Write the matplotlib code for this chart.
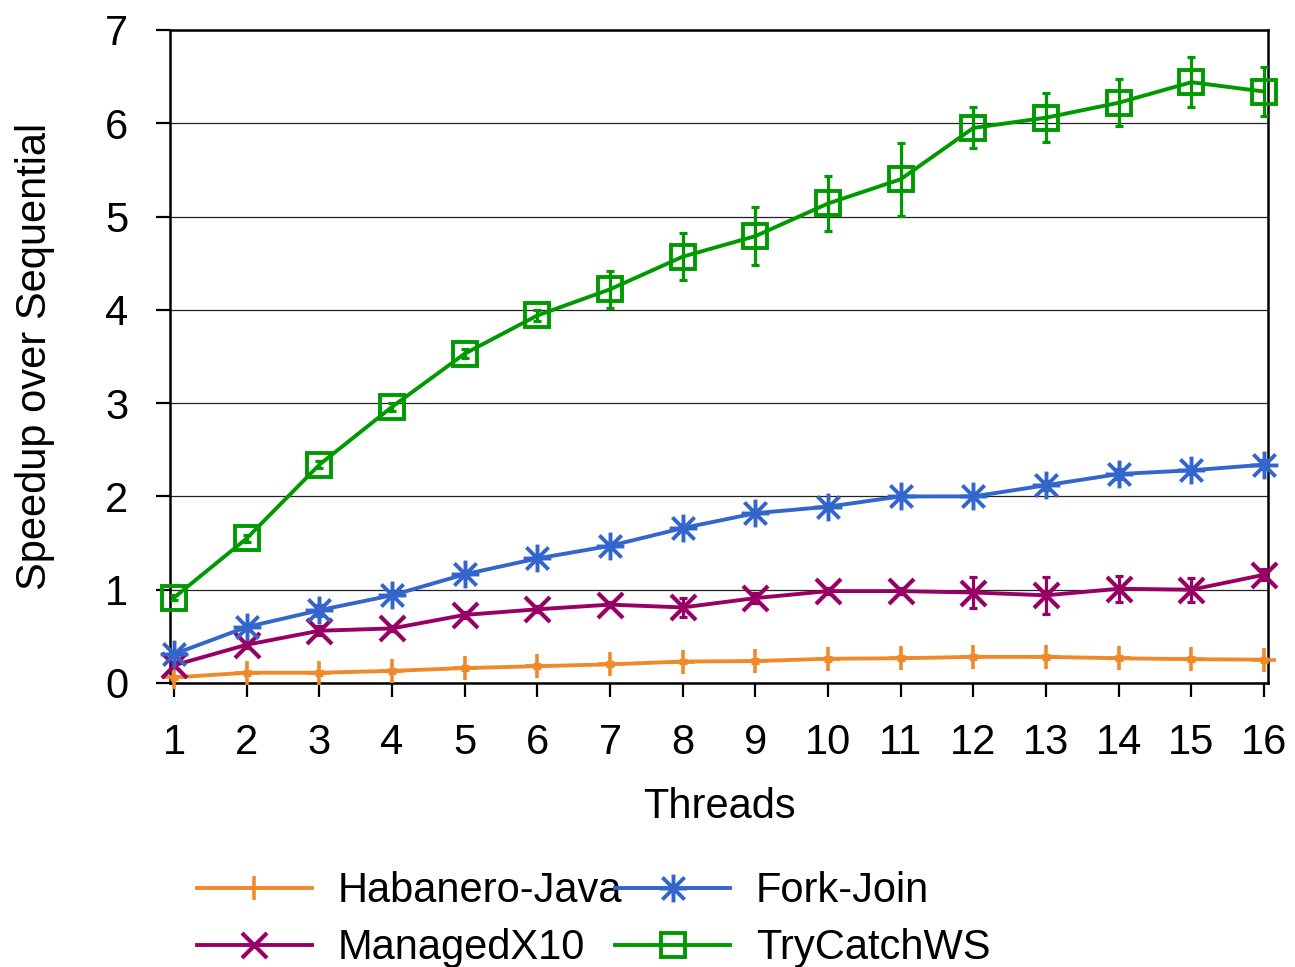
import matplotlib as mpl
mpl.use("Agg")
import matplotlib.pyplot as plt
from matplotlib.path import Path

mpl.rcParams.update({
    "font.family": "sans-serif",
    "font.sans-serif": ["Liberation Sans", "DejaVu Sans"],
    "font.size": 30,
})

threads = list(range(1, 17))

habanero = [0.06, 0.11, 0.11, 0.13, 0.16, 0.18, 0.20, 0.23, 0.235, 0.26, 0.265, 0.28, 0.28, 0.265, 0.255, 0.25]
habanero_err = [0.02, 0.02, 0.02, 0.02, 0.02, 0.02, 0.02, 0.02, 0.02, 0.02, 0.02, 0.02, 0.02, 0.02, 0.02, 0.02]

x10 = [0.19, 0.41, 0.56, 0.585, 0.73, 0.79, 0.84, 0.81, 0.91, 0.985, 0.985, 0.97, 0.94, 1.01, 1.0, 1.16]
x10_err = [0.03, 0.03, 0.05, 0.03, 0.03, 0.03, 0.03, 0.10, 0.05, 0.03, 0.03, 0.17, 0.20, 0.14, 0.13, 0.06]

forkjoin = [0.31, 0.60, 0.78, 0.94, 1.165, 1.335, 1.47, 1.66, 1.82, 1.89, 2.0, 2.0, 2.12, 2.24, 2.28, 2.34]
forkjoin_err = [0.03, 0.03, 0.06, 0.03, 0.03, 0.03, 0.03, 0.03, 0.03, 0.03, 0.03, 0.03, 0.05, 0.05, 0.04, 0.05]

trycatch = [0.915, 1.55, 2.34, 2.96, 3.53, 3.94, 4.22, 4.57, 4.79, 5.14, 5.40, 5.95, 6.06, 6.22, 6.44, 6.34]
trycatch_err = [0.03, 0.04, 0.04, 0.04, 0.05, 0.06, 0.20, 0.25, 0.31, 0.30, 0.39, 0.22, 0.26, 0.25, 0.27, 0.26]

names = ["Habanero-Java", "ManagedX10", "Fork-Join", "TryCatchWS"]
colors = ["#EE8A2A", "#990066", "#3366CC", "#009900"]

# gnuplot-style asterisk: vertical, horizontal and two diagonals
asterisk = Path(
    [(0, -1), (0, 1), (-1, 0), (1, 0), (-0.8, -0.8), (0.8, 0.8), (-0.8, 0.8), (0.8, -0.8)],
    [Path.MOVETO, Path.LINETO] * 4,
)

styles = [
    dict(marker="+", ms=17, mew=2.6, mfc="none"),
    dict(marker="x", ms=18, mew=3.0, mfc="none"),
    dict(marker=asterisk, ms=20, mew=2.8, mfc="none"),
    dict(marker="s", ms=17, mew=2.8, mfc="none"),
]

fig = plt.figure(figsize=(12.95, 9.67), dpi=100)
ax = fig.add_axes([0.1313, 0.2937, 0.9792 - 0.1313, 0.969 - 0.2937])

series = [(habanero, habanero_err), (x10, x10_err), (forkjoin, forkjoin_err), (trycatch, trycatch_err)]
for (vals, errs), name, c, st in zip(series, names, colors, styles):
    ax.errorbar(threads, vals, yerr=errs, fmt="none", ecolor=c, elinewidth=2.3,
                capsize=3, capthick=2.3, clip_on=False, zorder=3)
    ax.plot(threads, vals, color=c, lw=2.8, mec=c, label=name, clip_on=False,
            zorder=4, **st)

ax.set_xlim(0.945, 16.055)
ax.set_ylim(0, 7)
ax.set_xticks(threads)
ax.set_yticks(range(0, 8))
ax.yaxis.grid(True, color="#222222", lw=0.9)
ax.set_axisbelow(True)
for s in ax.spines.values():
    s.set_linewidth(1.8)
ax.tick_params(axis="both", direction="out", length=10, width=1.6, top=False, right=False)
ax.tick_params(axis="x", pad=19)
ax.tick_params(axis="y", pad=20)

ax.set_xlabel("Threads", labelpad=17)
ax.set_ylabel("Speedup over Sequential", labelpad=36)

fig.legend(loc="upper left", bbox_to_anchor=(0.152, 0.0988), ncol=2, frameon=False,
           handlelength=2.76, handletextpad=0.62, columnspacing=-0.17,
           labelspacing=0.4, borderpad=0, borderaxespad=0, numpoints=1)

fig.savefig("out.png", dpi=100, facecolor="white")
